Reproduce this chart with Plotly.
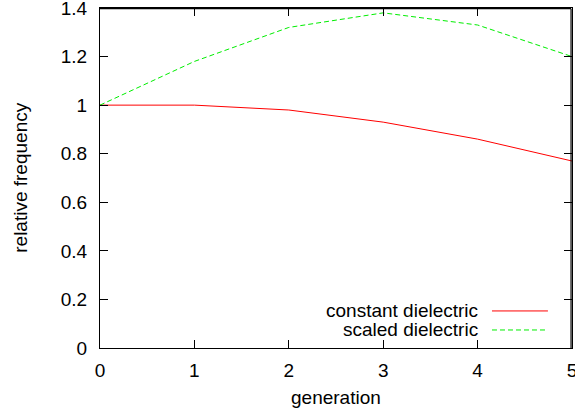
import plotly.graph_objects as go

generation = [0, 1, 2, 3, 4, 5]
constant_dielectric = [1.0, 1.0, 0.98, 0.93, 0.86, 0.77]
scaled_dielectric = [1.0, 1.18, 1.32, 1.38, 1.33, 1.2]
series_names = ["constant dielectric", "scaled dielectric"]
x_ticks = [0, 1, 2, 3, 4, 5]
y_ticks = [0, 0.2, 0.4, 0.6, 0.8, 1, 1.2, 1.4]
y_tick_labels = ["0", "0.2", "0.4", "0.6", "0.8", "1", "1.2", "1.4"]

font = "Liberation Sans, Arial, sans-serif"
fs = 19

fig = go.Figure()
fig.add_trace(go.Scatter(x=generation, y=constant_dielectric, mode="lines",
                         line=dict(color="#ff0000", width=1), name=series_names[0],
                         showlegend=False))
fig.add_trace(go.Scatter(x=generation, y=scaled_dielectric, mode="lines",
                         line=dict(color="#00ee00", width=1, dash="5px,3px"), name=series_names[1],
                         showlegend=False))

# gnuplot-style legend: right-aligned text with the line sample on the right
legend_y = [0.109, 0.053]
legend_styles = [dict(color="#ff0000", width=1), dict(color="#00ee00", width=1, dash="5px,3px")]
for name, ly, st in zip(series_names, legend_y, legend_styles):
    fig.add_annotation(xref="paper", yref="paper", x=0.805, y=ly, text=name,
                       showarrow=False, xanchor="right", yanchor="middle",
                       font=dict(family=font, size=fs, color="black"))
    fig.add_shape(type="line", xref="paper", yref="paper", x0=0.8305, x1=0.949,
                  y0=ly, y1=ly, line=st)

# plot frame top and right edges (gnuplot border)
fig.add_shape(type="line", xref="paper", yref="paper", x0=0, x1=0.998, y0=0.998, y1=0.998,
              line=dict(color="black", width=1.2), layer="above")
fig.add_shape(type="line", xref="paper", yref="paper", x0=0.998, x1=0.998, y0=0, y1=0.998,
              line=dict(color="black", width=1.2), layer="above")

# axis titles
fig.add_annotation(xref="paper", yref="paper", x=0.5, y=-0.147, text="generation",
                   showarrow=False, xanchor="center", yanchor="middle",
                   font=dict(family=font, size=fs, color="black"))
fig.add_annotation(xref="paper", yref="paper", x=-0.17, y=0.5, text="relative frequency",
                   showarrow=False, xanchor="center", yanchor="middle", textangle=-90,
                   font=dict(family=font, size=fs, color="black"))

fig.update_layout(
    width=575, height=414,
    margin=dict(l=100, r=3, t=8, b=66),
    plot_bgcolor="white", paper_bgcolor="white",
    font=dict(family=font, size=fs, color="black"),
    xaxis=dict(range=[0, 5], tickvals=x_ticks, ticks="inside", ticklen=8, tickcolor="black",
               tickwidth=1.2,
               showline=True, linecolor="black", linewidth=1.2, mirror="allticks",
               showgrid=False, zeroline=False, automargin=False,
               ticklabelstandoff=5, ticklabeloverflow="allow"),
    yaxis=dict(range=[0, 1.4], tickvals=y_ticks, ticktext=y_tick_labels, ticks="inside",
               ticklen=8, tickcolor="black", tickwidth=1.2,
               showline=True, linecolor="black", linewidth=1.2, mirror="allticks",
               showgrid=False, zeroline=False, automargin=False,
               ticklabelstandoff=8, ticklabeloverflow="allow"),
)

fig.write_html("out.html", config={"displayModeBar": False},
               post_script="document.body.style.margin='0';document.body.style.overflow='hidden';")
